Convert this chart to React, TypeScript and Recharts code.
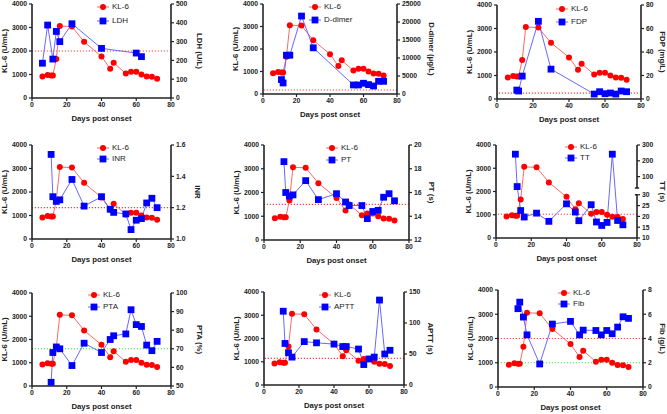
import React from "react";
import { ComposedChart, Line, XAxis, YAxis, ReferenceLine, Legend } from "recharts";

// shared KL-6 series
const klDays = [6, 9, 11, 12, 14, 16, 23, 30, 40, 45, 47, 54, 57, 60, 63, 66, 69, 72];
const kl6 = [920, 980, 960, 960, 1660, 3060, 3040, 2390, 1770, 1240, 1500, 1040, 1120, 1120, 1000, 910, 900, 820];

// other markers
const ldhDays = [6, 9, 12, 14, 16, 23, 40, 60, 63];
const ldh = [185, 388, 207, 354, 300, 395, 264, 239, 220];
const dimerDays = [11, 12, 14, 16, 23, 30, 54, 57, 60, 63, 66, 69, 72];
const dimer = [4000, 3070, 10780, 10780, 21650, 12830, 2510, 2510, 2980, 2600, 2230, 3530, 3530];
const fdpDays = [11, 12, 14, 23, 30, 54, 57, 60, 63, 66, 69, 72];
const fdp = [7.6, 6.8, 19.5, 66.1, 25.4, 4.2, 6.2, 4.5, 5.1, 4.2, 6.8, 6.2];
const labDays = [11, 12, 14, 16, 23, 30, 40, 45, 47, 54, 57, 60, 63, 66, 69, 72];
const inr = [1.54, 1.27, 1.24, 1.25, 1.38, 1.21, 1.27, 1.19, 1.17, 1.16, 1.06, 1.12, 1.13, 1.23, 1.26, 1.2];
const pt = [18.6, 16.0, 15.7, 15.8, 17.0, 15.4, 15.9, 15.2, 14.9, 14.9, 13.8, 14.4, 14.5, 15.6, 15.9, 15.3];
const tt = [242, 37, 22.7, 19.7, 21.5, 17.7, 25.8, 22.0, 18.0, 25.4, 17.4, 15.8, 17.2, 242, 18.1, 16.1];
const pta = [52, 68, 71, 70, 61, 73, 68, 75, 77, 78, 91, 83, 82, 72, 69, 74];
const aptt = [119, 67, 52, 45, 70, 68, 66, 62, 62, 58, 33, 42, 45, 137, 50, 56];
const fib = [6.46, 7.0, 5.77, 4.3, 1.9, 5.19, 5.41, 4.3, 4.69, 4.66, 4.3, 4.66, 4.39, 4.94, 5.79, 5.66];

const xTicks = [0, 20, 40, 60, 80];
const klTicks = [0, 1000, 2000, 3000, 4000];
const ttTicks = [10, 15, 20, 25, 30, 100, 200, 300];

const FONT = '"Liberation Sans", Arial, sans-serif';
const RED = "#ff0000";
const BLUE = "#0000ff";
const GREEN = "#44e044";
const REFRED = "#ff4040";
const INK = "#222";

// broken TT axis: 10-30 in the lower part, up to 300 in the upper part
const ttPos = (v: number) => (v <= 30 ? (v - 10) * 93 : 4000 - (300 - v) * 6.8);

const LW = 40;
const RW = 45;
const MT = 6;
const XH = 30;

type Panel = {
  x0: number; x1: number; y0: number; y1: number;
  name: string; label: string;
  days: number[]; vals: number[];
  domain: number[]; ticks: number[]; fmt?: (v: number) => string;
  refs: { y: number; color: string }[];
  lx: number; ly: number; lgap: number; rdx: number;
  broken?: boolean;
};

const panels: Panel[] = [
  { x0: 32, x1: 171, y0: 4, y1: 98, name: "LDH", label: "LDH (U/L)", days: ldhDays, vals: ldh,
    domain: [0, 500], ticks: [0, 100, 200, 300, 400, 500], refs: [{ y: 250, color: REFRED }], lx: 97, ly: 7, lgap: 14, rdx: 28 },
  { x0: 263, x1: 397, y0: 4, y1: 94, name: "D-dimer", label: "D-dimer (μg/L)", days: dimerDays, vals: dimer,
    domain: [0, 25000], ticks: [0, 5000, 10000, 15000, 20000, 25000], refs: [{ y: 1100, color: REFRED }], lx: 309, ly: 7, lgap: 13, rdx: 34 },
  { x0: 497, x1: 641, y0: 5, y1: 99, name: "FDP", label: "FDP (mg/L)", days: fdpDays, vals: fdp,
    domain: [0, 80], ticks: [0, 20, 40, 60, 80], refs: [{ y: 5, color: REFRED }], lx: 556, ly: 9, lgap: 13, rdx: 21 },
  { x0: 32, x1: 171, y0: 145, y1: 239, name: "INR", label: "INR", days: labDays, vals: inr,
    domain: [1.0, 1.6], ticks: [1.0, 1.2, 1.4, 1.6], fmt: (v) => v.toFixed(1), refs: [{ y: 1.2, color: REFRED }], lx: 97, ly: 148, lgap: 11, rdx: 26 },
  { x0: 264, x1: 409, y0: 145, y1: 240, name: "PT", label: "PT (s)", days: labDays, vals: pt,
    domain: [12, 20], ticks: [12, 14, 16, 18, 20], refs: [{ y: 15, color: REFRED }], lx: 326, ly: 148, lgap: 12, rdx: 22 },
  { x0: 496, x1: 637, y0: 145, y1: 238, name: "TT", label: "TT (s)", days: labDays, vals: tt,
    domain: [0, 4000], ticks: ttTicks.map(ttPos), refs: [{ y: ttPos(21), color: REFRED }], lx: 565, ly: 147, lgap: 11, rdx: 25, broken: true },
  { x0: 32, x1: 171, y0: 293, y1: 386, name: "PTA", label: "PTA (%)", days: labDays, vals: pta,
    domain: [50, 100], ticks: [50, 60, 70, 80, 90, 100], refs: [{ y: 70, color: GREEN }], lx: 88, ly: 295, lgap: 12, rdx: 28 },
  { x0: 264, x1: 404, y0: 292, y1: 385, name: "APTT", label: "APTT (s)", days: labDays, vals: aptt,
    domain: [0, 150], ticks: [0, 50, 100, 150], refs: [{ y: 43, color: REFRED }], lx: 319, ly: 295, lgap: 12, rdx: 26 },
  { x0: 498, x1: 643, y0: 290, y1: 387, name: "Fib", label: "Fib (g/L)", days: labDays, vals: fib,
    domain: [0, 8], ticks: [0, 2, 4, 6, 8], refs: [{ y: 4, color: REFRED }, { y: 2, color: GREEN }], lx: 558, ly: 293, lgap: 11, rdx: 19 },
];

const tickStyle = { fontSize: 6.8, fontWeight: 700, fill: INK, fontFamily: FONT };
const axisLine = { stroke: INK, strokeWidth: 1.6 };
const tickLine = { stroke: INK, strokeWidth: 1.2 };

function Square(props: any) {
  const { cx, cy } = props;
  if (cx == null || cy == null) return <g />;
  return <rect x={cx - 3.4} y={cy - 3.4} width={6.8} height={6.8} fill={BLUE} />;
}

function LegendBox({ name, gap }: { name: string; gap: number }) {
  const row = (key: string, color: string, line: string, circle: boolean) => (
    <div style={{ display: "flex", alignItems: "center", height: gap }}>
      <svg width={15} height={8} style={{ display: "block" }}>
        <line x1={0} x2={12} y1={4} y2={4} stroke={line} strokeWidth={1} />
        {circle ? <circle cx={6} cy={4} r={3} fill={color} /> : <rect x={2.6} y={0.6} width={6.8} height={6.8} fill={color} />}
      </svg>
      <span>{key}</span>
    </div>
  );
  return (
    <div style={{ fontFamily: FONT, fontSize: 8, color: INK, lineHeight: "8px" }}>
      {row("KL-6", RED, "#ff6868", true)}
      {row(name, BLUE, "#6868ff", false)}
    </div>
  );
}

function ChartPanel({ p }: { p: Panel }) {
  const W = p.x1 - p.x0 + LW + RW;
  const H = p.y1 - p.y0 + MT + XH;
  const left = p.x0 - LW;
  const top = p.y0 - MT;
  const plotW = p.x1 - p.x0;
  const plotH = p.y1 - p.y0;
  const klData = klDays.map((d, i) => ({ d, v: kl6[i] }));
  const data = p.days.map((d, i) => ({ d, v: p.broken ? ttPos(p.vals[i]) : p.vals[i] }));
  const fmt = p.broken
    ? (v: number) => String(ttTicks[ttTicks.map(ttPos).findIndex((t) => Math.abs(t - v) < 1)] ?? "")
    : p.fmt ?? ((v: number) => String(v));
  const titleStyle = { fontFamily: FONT, fontSize: 7.8, fontWeight: 700, fill: INK };
  const midY = MT + plotH / 2;
  const rx = LW + plotW + p.rdx;

  return (
    <div style={{ position: "absolute", left, top, width: W, height: H }}>
      <ComposedChart width={W} height={H} margin={{ top: MT, right: 0, bottom: 0, left: 0 }}>
        <XAxis
          dataKey="d" type="number" domain={[0, 80]} ticks={xTicks} allowDataOverflow
          height={XH} tickSize={3} tickMargin={1} tick={tickStyle} axisLine={axisLine} tickLine={tickLine}
          label={{ content: () => (
            <text x={LW + plotW / 2} y={MT + plotH + 23} textAnchor="middle" style={titleStyle}>Days post onset</text>
          ) }}
        />
        <YAxis
          yAxisId="kl" domain={[0, 4000]} ticks={klTicks} allowDataOverflow width={LW}
          tickSize={3} tickMargin={2} tick={tickStyle} axisLine={axisLine} tickLine={tickLine}
          label={{ content: () => (
            <text x={LW - 28} y={midY} textAnchor="middle" dominantBaseline="central"
              transform={`rotate(-90, ${LW - 28}, ${midY})`} style={titleStyle}>KL-6 (U/mL)</text>
          ) }}
        />
        <YAxis
          yAxisId="r" orientation="right" domain={p.domain} ticks={p.ticks} allowDataOverflow width={RW}
          tickSize={3} tickMargin={2} tick={tickStyle} axisLine={p.broken ? false : axisLine} tickLine={tickLine}
          tickFormatter={fmt} interval={0}
          label={{ content: () => (
            <text x={rx} y={midY} textAnchor="middle" dominantBaseline="central"
              transform={`rotate(90, ${rx}, ${midY})`} style={titleStyle}>{p.label}</text>
          ) }}
        />
        {p.refs.map((r, i) => (
          <ReferenceLine key={i} yAxisId="r" y={r.y} stroke={r.color} strokeWidth={1.1} strokeDasharray="1.2 1.8" />
        ))}
        {p.broken && (
          <ReferenceLine yAxisId="r" segment={[{ x: 80, y: 0 }, { x: 80, y: ttPos(30) }]} stroke={INK} strokeWidth={1.6} ifOverflow="visible" />
        )}
        {p.broken && (
          <ReferenceLine yAxisId="r" segment={[{ x: 80, y: 2150 }, { x: 80, y: 4000 }]} stroke={INK} strokeWidth={1.6} ifOverflow="visible" />
        )}
        {p.broken && (
          <ReferenceLine yAxisId="r" segment={[{ x: 78.8, y: 2150 }, { x: 81.2, y: 2150 }]} stroke={INK} strokeWidth={1.5} ifOverflow="visible" />
        )}
        {p.broken && (
          <ReferenceLine yAxisId="r" segment={[{ x: 78.8, y: ttPos(30) }, { x: 80, y: ttPos(30) }]} stroke={INK} strokeWidth={1.5} ifOverflow="visible" />
        )}
        <Line
          yAxisId="kl" data={klData} dataKey="v" type="linear" stroke="#ff6868" strokeWidth={1}
          dot={{ r: 3, fill: RED, stroke: "none" }} activeDot={false} isAnimationActive={false}
        />
        <Line
          yAxisId="r" data={data} dataKey="v" type="linear" stroke="#6868ff" strokeWidth={1}
          dot={<Square />} activeDot={false} isAnimationActive={false}
        />
        <Legend
          layout="vertical" align="center" verticalAlign="middle" width={70} height={p.lgap * 2}
          wrapperStyle={{ left: p.lx - left, top: p.ly - p.lgap / 2 - top, margin: 0 }}
          content={() => <LegendBox name={p.name} gap={p.lgap} />}
        />
      </ComposedChart>
    </div>
  );
}

export default function App() {
  return (
    <div style={{ position: "fixed", left: 0, top: 0, width: 667, height: 414, background: "#fff", overflow: "hidden" }}>
      {panels.map((p) => (
        <ChartPanel key={p.name} p={p} />
      ))}
    </div>
  );
}
